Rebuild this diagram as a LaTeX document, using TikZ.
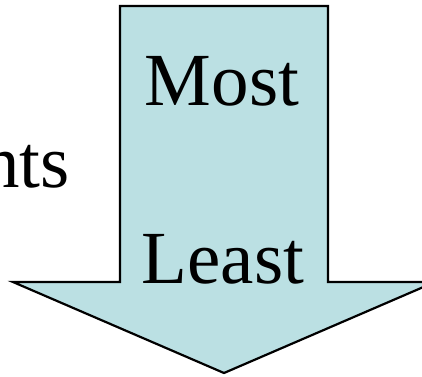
\documentclass[tikz,border=0pt]{standalone}
\usepackage{fontspec}
\setmainfont{Liberation Serif}
\definecolor{arrowblue}{RGB}{187,224,227}
\begin{document}
\begin{tikzpicture}[
x=1pt,y=1pt,
big/.style={font=\fontsize{75}{90}\selectfont,inner sep=0pt},
arrowshape/.style={draw=black,fill=arrowblue,line width=2.2pt,line join=miter}
]
\useasboundingbox (0,0) rectangle (422,376);
\clip (0,0) rectangle (422,376);
\fill[white] (0,0) rectangle (422,376);
\draw[arrowshape] (120,370) -- (328,370) -- (328,94) -- (435,94)
    -- (224,3) -- (13,94) -- (120,94) -- cycle;
\node[big,anchor=base] (most) at (222,271) {Most};
\node[big,anchor=base] (least) at (223,93) {Least};
\node[big,anchor=base east] (nts) at (70,189) {nts};
\end{tikzpicture}
\end{document}
